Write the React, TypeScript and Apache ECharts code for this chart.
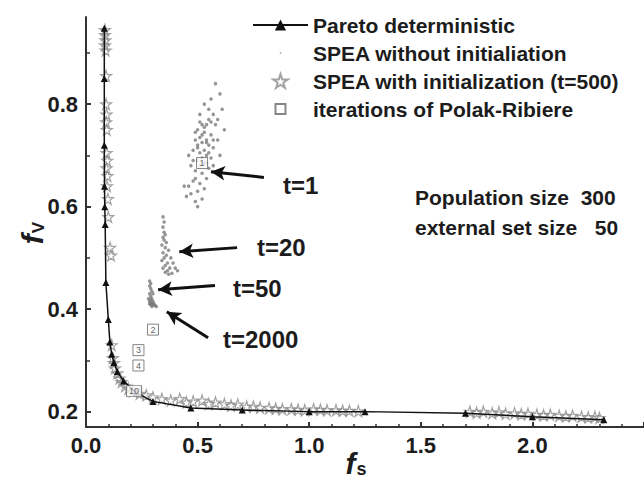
import React, { useEffect, useRef } from 'react';
import * as echarts from 'echarts';

// Pareto deterministic front
const paretoX = [0.082, 0.082, 0.082, 0.083, 0.084, 0.086, 0.089, 0.1, 0.107, 0.115, 0.125, 0.14, 0.168, 0.224, 0.3, 0.47, 0.7, 1.0, 1.25, 1.7, 2.0, 2.32];
const paretoY = [0.948, 0.85, 0.72, 0.64, 0.6, 0.565, 0.452, 0.38, 0.336, 0.312, 0.296, 0.278, 0.26, 0.237, 0.22, 0.207, 0.203, 0.2, 0.2, 0.197, 0.19, 0.184];

// SPEA without initialization (clusters t=1, t=20, t=50, t=2000)
const speaX = [
  0.58, 0.60, 0.56, 0.61, 0.53, 0.57, 0.55, 0.51, 0.54, 0.58, 0.50, 0.53, 0.56, 0.59, 0.49, 0.52, 0.55, 0.57, 0.48, 0.51,
  0.54, 0.56, 0.50, 0.53, 0.47, 0.55, 0.49, 0.52, 0.54, 0.48, 0.51, 0.46, 0.53, 0.50, 0.47, 0.52, 0.45, 0.49, 0.44, 0.50,
  0.62, 0.60, 0.46, 0.52, 0.55, 0.57, 0.50, 0.53, 0.48, 0.51, 0.49, 0.54, 0.56, 0.59, 0.57,
  0.52, 0.54, 0.51, 0.53, 0.55, 0.50, 0.52, 0.54, 0.49, 0.51,
  0.345, 0.35, 0.345, 0.35, 0.355, 0.345, 0.35, 0.36, 0.34, 0.355, 0.37, 0.345, 0.36, 0.38, 0.35, 0.34, 0.365, 0.39, 0.355, 0.375,
  0.345, 0.40, 0.365, 0.385, 0.355, 0.41, 0.37,
  0.285, 0.29, 0.285, 0.29, 0.295, 0.285, 0.29, 0.30, 0.295,
  0.28, 0.285, 0.29, 0.295, 0.30, 0.305, 0.31, 0.29, 0.30, 0.315, 0.285, 0.295, 0.30, 0.29
];
const speaY = [
  0.84, 0.82, 0.81, 0.79, 0.80, 0.78, 0.77, 0.78, 0.76, 0.76, 0.75, 0.745, 0.74, 0.73, 0.73, 0.725, 0.72, 0.715, 0.71, 0.705,
  0.70, 0.695, 0.69, 0.685, 0.68, 0.675, 0.67, 0.665, 0.655, 0.65, 0.645, 0.64, 0.635, 0.63, 0.625, 0.615, 0.62, 0.61, 0.64, 0.60,
  0.75, 0.70, 0.70, 0.76, 0.79, 0.73, 0.72, 0.71, 0.69, 0.68, 0.655, 0.73, 0.765, 0.77, 0.68,
  0.74, 0.725, 0.735, 0.755, 0.705, 0.715, 0.695, 0.685, 0.745, 0.765,
  0.58, 0.57, 0.56, 0.55, 0.545, 0.54, 0.535, 0.53, 0.525, 0.52, 0.515, 0.51, 0.505, 0.50, 0.50, 0.495, 0.49, 0.49, 0.485, 0.48,
  0.48, 0.48, 0.475, 0.47, 0.472, 0.475, 0.468,
  0.455, 0.45, 0.445, 0.44, 0.435, 0.43, 0.425, 0.43, 0.42,
  0.42, 0.415, 0.412, 0.41, 0.408, 0.41, 0.407, 0.418, 0.415, 0.405, 0.41, 0.405, 0.412, 0.409
];

// SPEA with initialization (t=500)
const starX = [
  0.085, 0.085, 0.087, 0.085, 0.088, 0.09, 0.09, 0.092, 0.09, 0.093, 0.092, 0.095, 0.092, 0.096, 0.094, 0.098, 0.1, 0.108, 0.112,
  0.115, 0.12, 0.125, 0.13, 0.14, 0.15, 0.16, 0.175, 0.19, 0.21, 0.24, 0.27, 0.3,
  0.34, 0.38, 0.42, 0.45, 0.48, 0.52, 0.55, 0.58, 0.62, 0.65, 0.68, 0.72, 0.75, 0.78, 0.82, 0.85, 0.88, 0.92, 0.95, 0.98,
  1.02, 1.05, 1.08, 1.12, 1.15, 1.18, 1.22,
  1.72, 1.75, 1.78, 1.82, 1.85, 1.88, 1.92, 1.95, 1.98, 2.02, 2.05, 2.08, 2.12, 2.15, 2.18, 2.22, 2.25, 2.28, 2.3
];
const starY = [
  0.945, 0.935, 0.925, 0.915, 0.905, 0.855, 0.80, 0.78, 0.765, 0.75, 0.705, 0.69, 0.675, 0.66, 0.64, 0.615, 0.58, 0.52, 0.505,
  0.33, 0.305, 0.295, 0.285, 0.275, 0.265, 0.258, 0.25, 0.245, 0.24, 0.235, 0.232, 0.228,
  0.225, 0.222, 0.225, 0.218, 0.22, 0.222, 0.215, 0.218, 0.215, 0.212, 0.214, 0.21, 0.21, 0.208, 0.207, 0.206, 0.205, 0.205, 0.204, 0.203,
  0.205, 0.204, 0.203, 0.203, 0.202, 0.202, 0.201,
  0.2, 0.198, 0.2, 0.197, 0.199, 0.196, 0.197, 0.195, 0.196, 0.194, 0.193, 0.194, 0.192, 0.191, 0.192, 0.19, 0.189, 0.19, 0.188
];

// Iterations of Polak-Ribiere
const prX = [0.52, 0.30, 0.235, 0.235, 0.215];
const prY = [0.685, 0.36, 0.32, 0.29, 0.24];
const prLabels = ['1', '2', '3', '4', '10'];

// Arrows [tailX, tailY, tipX, tipY]
const arrows = [
  [0.797, 0.657, 0.56, 0.668],
  [0.677, 0.52, 0.418, 0.512],
  [0.578, 0.446, 0.323, 0.438],
  [0.547, 0.344, 0.362, 0.395],
];

const yTickValues = [0.2, 0.4, 0.6, 0.8];
const yMinorTickValues = [0.3, 0.5, 0.7, 0.9];

const FONT = 'Liberation Sans, Arial, sans-serif';
const TXT = '#1c1c1c';
const STAR = 'path://M50,0 L61,35 L98,35 L68,57 L79,91 L50,70 L21,91 L32,57 L2,35 L39,35 Z';

export default function App() {
  const ref = useRef<HTMLDivElement>(null);
  useEffect(() => {
    const chart = echarts.init(ref.current!, null, { renderer: 'svg' });
    const zip = (xs: number[], ys: number[]) => xs.map((x, i) => [x, ys[i]]);
    const option: any = {
      animation: false,
      backgroundColor: '#fff',
      grid: { left: 86, top: 17, right: -24, bottom: 55 },
      legend: {
        orient: 'vertical',
        left: 252,
        top: 14,
        padding: 0,
        itemWidth: 55,
        itemHeight: 14,
        itemGap: 6,
        textStyle: { fontSize: 21, fontWeight: 'bold', color: TXT, fontFamily: FONT, lineHeight: 22 },
        data: [
          { name: 'Pareto deterministic' },
          { name: 'SPEA without initialiation', icon: 'path://M0,0 M20,20 M9,9 h2 v2 h-2 z' },
          { name: 'SPEA with initialization (t=500)', icon: STAR },
          { name: 'iterations of Polak-Ribiere', icon: 'path://M0,0 M14,14 M2,2 h10 v10 h-10 z' },
        ],
      },
      xAxis: {
        type: 'value',
        min: 0,
        max: 2.5,
        interval: 0.5,
        axisLine: { lineStyle: { color: '#333', width: 2 } },
        axisTick: { inside: true, length: 5, lineStyle: { color: '#333', width: 2 } },
        minorTick: { show: true, splitNumber: 5, length: 3, lineStyle: { color: '#333', width: 1.5 } },
        splitLine: { show: false },
        axisLabel: {
          fontSize: 22, fontWeight: 'bold', color: TXT, fontFamily: FONT, margin: 7,
          formatter: (v: number) => v.toFixed(1),
          showMaxLabel: false,
        },
      },
      yAxis: [
        {
          type: 'value',
          min: 0.17,
          max: 0.97,
          axisLine: { show: true, lineStyle: { color: '#333', width: 2 } },
          axisTick: { show: true, inside: true, length: 5, customValues: yTickValues, lineStyle: { color: '#333', width: 2 } },
          splitLine: { show: false },
          axisLabel: {
            fontSize: 22, fontWeight: 'bold', color: TXT, fontFamily: FONT, margin: 8,
            customValues: yTickValues,
            formatter: (v: number) => v.toFixed(1),
          },
        },
        {
          type: 'value',
          min: 0.17,
          max: 0.97,
          position: 'left',
          axisLine: { show: false },
          axisTick: { show: true, inside: true, length: 4, customValues: yMinorTickValues, lineStyle: { color: '#333', width: 1.5 } },
          axisLabel: { show: false },
          splitLine: { show: false },
        },
      ],
      series: [
        {
          name: 'SPEA with initialization (t=500)',
          type: 'scatter',
          symbol: STAR,
          symbolSize: 11,
          itemStyle: { color: 'rgba(255,255,255,0)', borderColor: '#8c8c8c', borderWidth: 1.2 },
          data: zip(starX, starY),
          z: 2,
        },
        {
          name: 'Pareto deterministic',
          type: 'line',
          symbol: 'triangle',
          symbolSize: 7,
          showSymbol: true,
          lineStyle: { color: '#111', width: 1.5 },
          itemStyle: { color: '#111' },
          data: zip(paretoX, paretoY),
          z: 3,
          markLine: {
            silent: true,
            symbol: ['none', 'arrow'],
            symbolSize: [11, 14],
            label: { show: false },
            lineStyle: { color: '#111', width: 3, type: 'solid' },
            emphasis: { disabled: true },
            data: arrows.map((a) => [{ coord: [a[0], a[1]] }, { coord: [a[2], a[3]] }]),
          },
        },
        {
          name: 'SPEA without initialiation',
          type: 'scatter',
          symbol: 'circle',
          symbolSize: 3.5,
          itemStyle: { color: '#7a7a7a' },
          data: zip(speaX, speaY),
          z: 4,
        },
        {
          name: 'iterations of Polak-Ribiere',
          type: 'scatter',
          symbol: 'rect',
          symbolSize: 11,
          itemStyle: { color: '#fff', borderColor: '#666', borderWidth: 1 },
          label: { show: true, position: 'inside', formatter: '{b}', fontSize: 9, color: '#333', fontFamily: FONT },
          data: prX.map((x, i) => ({
            name: prLabels[i],
            value: [x, prY[i]],
            symbolSize: prLabels[i].length > 1 ? [15, 11] : 11,
          })),
          z: 5,
        },
      ],
      graphic: [
        { type: 'text', left: 283, top: 173, style: { text: 't=1', font: `bold 24px ${FONT}`, fill: TXT } },
        { type: 'text', left: 257, top: 235, style: { text: 't=20', font: `bold 24px ${FONT}`, fill: TXT } },
        { type: 'text', left: 233, top: 276, style: { text: 't=50', font: `bold 24px ${FONT}`, fill: TXT } },
        { type: 'text', left: 223, top: 327, style: { text: 't=2000', font: `bold 24px ${FONT}`, fill: TXT } },
        { type: 'text', left: 415, top: 187, style: { text: 'Population size  300', font: `bold 21px ${FONT}`, fill: TXT } },
        { type: 'text', left: 415, top: 217, style: { text: 'external set size   50', font: `bold 21px ${FONT}`, fill: TXT } },
        {
          type: 'text', x: 32, y: 233, rotation: Math.PI / 2,
          style: {
            text: '{f|f}{s|V}', align: 'center', verticalAlign: 'middle', fill: TXT,
            rich: {
              f: { fontSize: 30, fontStyle: 'italic', fontWeight: 'bold', fontFamily: FONT, fill: TXT },
              s: { fontSize: 17, fontWeight: 'bold', fontFamily: FONT, fill: TXT, padding: [12, 0, 0, 1] },
            },
          },
        },
        {
          type: 'text', x: 356, y: 463,
          style: {
            text: '{f|f}{s|s}', align: 'center', verticalAlign: 'middle', fill: TXT,
            rich: {
              f: { fontSize: 30, fontStyle: 'italic', fontWeight: 'bold', fontFamily: FONT, fill: TXT },
              s: { fontSize: 18, fontWeight: 'bold', fontFamily: FONT, fill: TXT, padding: [12, 0, 0, 1] },
            },
          },
        },
      ],
    };
    chart.setOption(option);
    return () => chart.dispose();
  }, []);
  return <div ref={ref} style={{ position: 'fixed', left: 0, top: 0, width: 644, height: 482, background: '#fff' }} />;
}
